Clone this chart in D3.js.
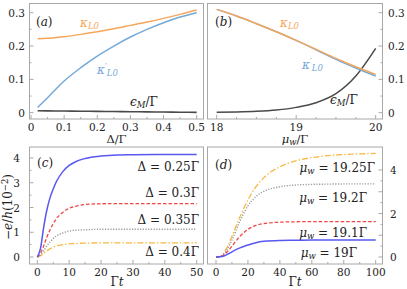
<!DOCTYPE html>
<html>
<head>
<meta charset="UTF-8" />
<script src="https://d3js.org/d3.v7.min.js"></script>
<style>
  body { margin: 0; background: #fff; }
  svg text { font-family: "DejaVu Serif", "Liberation Serif", serif; fill: #222; }
</style>
</head>
<body>
<svg id="chart" width="407" height="289"></svg>
<script>
// panel (a): vs Delta/Gamma
const deltaX = [0.02, 0.05, 0.1, 0.15, 0.2, 0.25, 0.3, 0.35, 0.4, 0.45, 0.5];
const kappaA = [0.222, 0.223, 0.228, 0.235, 0.243, 0.252, 0.262, 0.272, 0.283, 0.295, 0.308];
const kappaPrimeA = [0.016, 0.045, 0.095, 0.135, 0.17, 0.2, 0.227, 0.25, 0.27, 0.287, 0.3];
const epsA = [0.006, 0.0055, 0.005, 0.0045, 0.004, 0.0035, 0.003, 0.0025, 0.002, 0.0015, 0.001];

// panel (b): vs mu_w/Gamma
const muX = [18, 18.25, 18.5, 18.75, 19, 19.25, 19.5, 19.75, 20];
const kappaB = [0.31, 0.29, 0.267, 0.243, 0.217, 0.19, 0.163, 0.138, 0.115];
const kappaPrimeB = [0.31, 0.29, 0.267, 0.243, 0.217, 0.189, 0.16, 0.134, 0.11];
const epsB = [0.001, 0.002, 0.004, 0.008, 0.016, 0.03, 0.057, 0.11, 0.193];

// panel (c): current vs Gamma t
const tC = [0, 1, 2, 3, 4, 5, 6, 8, 10, 12, 15, 20, 25, 30, 40, 50];
const cDelta025 = [0, 0.35, 1.2, 1.9, 2.4, 2.75, 3.05, 3.45, 3.7, 3.85, 3.98, 4.08, 4.12, 4.13, 4.14, 4.14];
const cDelta03 = [0, 0.15, 0.45, 0.8, 1.1, 1.35, 1.55, 1.8, 1.97, 2.05, 2.12, 2.15, 2.16, 2.16, 2.16, 2.16];
const cDelta035 = [0, 0.08, 0.25, 0.45, 0.6, 0.75, 0.85, 0.97, 1.05, 1.08, 1.1, 1.12, 1.12, 1.12, 1.12, 1.12];
const cDelta04 = [0, 0.05, 0.15, 0.25, 0.33, 0.4, 0.45, 0.5, 0.53, 0.55, 0.56, 0.57, 0.57, 0.57, 0.57, 0.57];

// panel (d): current vs Gamma t
const tD = [0, 2.5, 5, 7.5, 10, 15, 20, 25, 30, 40, 50, 60, 70, 80, 90, 100];
const dMu19 = [0, 0.01, 0.05, 0.13, 0.24, 0.42, 0.55, 0.66, 0.72, 0.76, 0.77, 0.78, 0.78, 0.78, 0.78, 0.78];
const dMu191 = [0, 0.01, 0.1, 0.28, 0.5, 0.95, 1.27, 1.45, 1.54, 1.6, 1.62, 1.63, 1.63, 1.63, 1.63, 1.63];
const dMu192 = [0, 0.02, 0.15, 0.42, 0.78, 1.65, 2.35, 2.78, 3.02, 3.23, 3.31, 3.34, 3.35, 3.36, 3.36, 3.36];
const dMu1925 = [0, 0.02, 0.2, 0.52, 0.95, 1.85, 2.62, 3.23, 3.65, 4.15, 4.42, 4.57, 4.66, 4.71, 4.74, 4.76];

const ticksA = [0, 0.1, 0.2, 0.3, 0.4, 0.5];
const ticksKappa = [0, 0.1, 0.2, 0.3];
const ticksMu = [18, 19, 20];
const ticksTC = [0, 10, 20, 30, 40, 50];
const ticksTD = [0, 20, 40, 60, 80, 100];
const ticksIC = [0, 1, 2, 3, 4];
const ticksID = [0, 2, 4];

const svg = d3.select("#chart");
const frameColor = "#a8a8a8";

function frame(x0, y0, x1, y1) {
  svg.append("rect")
    .attr("x", x0).attr("y", y0)
    .attr("width", x1 - x0).attr("height", y1 - y0)
    .attr("fill", "none").attr("stroke", frameColor).attr("stroke-width", 1);
}

function xTicks(scale, vals, yb, fmt, minor) {
  const all = minor ? d3.merge(vals.slice(0, -1).map((v, i) => [v, (v + vals[i + 1]) / 2])).concat(vals.slice(-1)) : vals;
  svg.append("g").selectAll("line").data(all).join("line")
    .attr("x1", d => scale(d)).attr("x2", d => scale(d))
    .attr("y1", yb).attr("y2", (d, i) => yb - (vals.includes(d) ? 4 : 2))
    .attr("stroke", frameColor);
  svg.append("g").selectAll("text").data(vals).join("text")
    .attr("x", d => scale(d)).attr("y", yb + 11.5)
    .attr("text-anchor", "middle").attr("font-size", 10.5)
    .text(fmt);
}

function yTicks(scale, vals, xf, side, lx, fmt) {
  const dir = side === "left" ? 1 : -1;
  const minor = d3.merge(vals.slice(0, -1).map((v, i) => [(v + vals[i + 1]) / 2]));
  svg.append("g").selectAll("line").data(vals.concat(minor)).join("line")
    .attr("x1", xf).attr("x2", d => xf + dir * (vals.includes(d) ? 4 : 2))
    .attr("y1", d => scale(d)).attr("y2", d => scale(d))
    .attr("stroke", frameColor);
  svg.append("g").selectAll("text").data(vals).join("text")
    .attr("x", lx).attr("y", d => scale(d) + 4)
    .attr("text-anchor", side === "left" ? "end" : "start").attr("font-size", 10.5)
    .text(fmt);
}

function curve(xs, ys, sx, sy, color, width, dash) {
  const line = d3.line().x(d => sx(d[0])).y(d => sy(d[1])).curve(d3.curveMonotoneX);
  svg.append("path")
    .datum(xs.map((x, i) => [x, ys[i]]))
    .attr("d", line)
    .attr("fill", "none").attr("stroke", color)
    .attr("stroke-width", width)
    .attr("stroke-dasharray", dash || null);
}

function label(x, y, parts, anchor, color, size) {
  const t = svg.append("text").attr("x", x).attr("y", y)
    .attr("font-size", size || 12).attr("text-anchor", anchor || "start");
  if (color) t.style("fill", color);
  parts.forEach(p => {
    const s = t.append("tspan").text(p.t);
    if (p.i) s.attr("font-style", "italic");
    if (p.sub) s.attr("baseline-shift", "-25%").attr("font-size", 8.5);
    if (p.sup) s.attr("baseline-shift", "40%").attr("font-size", 8.5);
  });
  return t;
}

const fmtK = d => d === 0 ? "0" : d3.format(".1f")(d);

// ---------- (a) ----------
const xA = d3.scaleLinear().domain([0, 0.5]).range([31, 196.7]);
const yK = d3.scaleLinear().domain([0, 0.3]).range([112.7, 12.7]);
frame(29.5, 3.5, 203.5, 119);
xTicks(xA, ticksA, 119, fmtK, true);
yTicks(yK, ticksKappa, 29.5, "left", 25, fmtK);
curve(deltaX, epsA, xA, yK, "#4a4a4a", 1.6);
curve(deltaX, kappaPrimeA, xA, yK, "#74a9d8", 1.5);
curve(deltaX, kappaA, xA, yK, "#f5a65b", 1.5);
label(36, 26, [{ t: "(" }, { t: "a", i: true }, { t: ")" }]);
label(80, 27, [{ t: "κ", i: true }, { t: "L0", i: true, sub: true }], "start", "#f5a65b");
label(97, 74, [{ t: "κ", i: true }, { t: "′", sup: true }, { t: "L0", i: true, sub: true }], "start", "#74a9d8");
label(130, 106, [{ t: "ϵ", i: true }, { t: "M", i: true, sub: true }, { t: "/Γ" }]);
label(116.5, 143, [{ t: "Δ/Γ" }], "middle", null, 11.5);

// ---------- (b) ----------
const xB = d3.scaleLinear().domain([18, 20]).range([216.7, 375.7]);
frame(207.5, 3.5, 382.5, 119);
xTicks(xB, ticksMu, 119, d => d, false);
svg.append("g").selectAll("line").data([18.25, 18.5, 18.75, 19.25, 19.5, 19.75]).join("line")
  .attr("x1", d => xB(d)).attr("x2", d => xB(d)).attr("y1", 119).attr("y2", 117)
  .attr("stroke", frameColor);
yTicks(yK, ticksKappa, 382.5, "right", 388, fmtK);
curve(muX, epsB, xB, yK, "#4a4a4a", 1.5);
curve(muX, kappaPrimeB, xB, yK, "#74a9d8", 1.5);
curve(muX, kappaB, xB, yK, "#f5a65b", 1.5);
label(215, 26, [{ t: "(" }, { t: "b", i: true }, { t: ")" }]);
label(280, 27, [{ t: "κ", i: true }, { t: "L0", i: true, sub: true }], "start", "#f5a65b");
label(302, 69, [{ t: "κ", i: true }, { t: "′", sup: true }, { t: "L0", i: true, sub: true }], "start", "#74a9d8");
label(330, 104, [{ t: "ϵ", i: true }, { t: "M", i: true, sub: true }, { t: "/Γ" }]);
label(295, 143, [{ t: "μ", i: true }, { t: "w", i: true, sub: true }, { t: "/Γ" }], "middle", null, 11.5);

// ---------- (c) ----------
const xC = d3.scaleLinear().domain([0, 50]).range([37.3, 196.7]);
const yC = d3.scaleLinear().domain([0, 4]).range([257, 158]);
frame(29.5, 147, 203.5, 264);
xTicks(xC, ticksTC, 264, d => d, true);
yTicks(yC, ticksIC, 29.5, "left", 20, d => d);
curve(tC, cDelta04, xC, yC, "#f7b945", 1.3, "6,2,1.5,2");
curve(tC, cDelta035, xC, yC, "#9a9a9a", 1.4, "1.2,1.5");
curve(tC, cDelta03, xC, yC, "#f04545", 1.3, "3.5,2");
curve(tC, cDelta025, xC, yC, "#5858f0", 1.5);
label(37, 167, [{ t: "(" }, { t: "c", i: true }, { t: ")" }]);
label(199, 171, [{ t: "Δ = 0.25Γ" }], "end");
label(199, 197, [{ t: "Δ = 0.3Γ" }], "end");
label(199, 224, [{ t: "Δ = 0.35Γ" }], "end");
label(199, 256, [{ t: "Δ = 0.4Γ" }], "end");
label(117, 286, [{ t: "Γ" }, { t: "t", i: true }], "middle");
svg.append("text")
  .attr("transform", "translate(12,207) rotate(-90)")
  .attr("text-anchor", "middle").attr("font-size", 12)
  .call(t => {
    t.append("tspan").text("−");
    t.append("tspan").text("e").attr("font-style", "italic");
    t.append("tspan").text("/");
    t.append("tspan").text("h").attr("font-style", "italic");
    t.append("tspan").text("(10");
    t.append("tspan").text("−2").attr("font-size", 8.5).attr("baseline-shift", "40%");
    t.append("tspan").text(")");
  });

// ---------- (d) ----------
const xD = d3.scaleLinear().domain([0, 100]).range([216, 375.7]);
const yD = d3.scaleLinear().domain([0, 4]).range([257, 170]);
frame(207.5, 147, 382.5, 264);
xTicks(xD, ticksTD, 264, d => d, true);
yTicks(yD, [0, 1, 2, 3, 4], 382.5, "right", 390, d => ticksID.includes(d) ? d : "");
curve(tD, dMu1925, xD, yD, "#f7b945", 1.3, "6,2,1.5,2");
curve(tD, dMu192, xD, yD, "#9a9a9a", 1.4, "1.2,1.5");
curve(tD, dMu191, xD, yD, "#f04545", 1.3, "3.5,2");
curve(tD, dMu19, xD, yD, "#5858f0", 1.5);
label(215, 169, [{ t: "(" }, { t: "d", i: true }, { t: ")" }]);
label(375, 172, [{ t: "μ", i: true }, { t: "w", i: true, sub: true }, { t: " = 19.25Γ" }], "end");
label(367, 202, [{ t: "μ", i: true }, { t: "w", i: true, sub: true }, { t: " = 19.2Γ" }], "end");
label(367, 237, [{ t: "μ", i: true }, { t: "w", i: true, sub: true }, { t: " = 19.1Γ" }], "end");
label(357, 257, [{ t: "μ", i: true }, { t: "w", i: true, sub: true }, { t: " = 19Γ" }], "end");
label(295, 286, [{ t: "Γ" }, { t: "t", i: true }], "middle");
</script>
</body>
</html>
